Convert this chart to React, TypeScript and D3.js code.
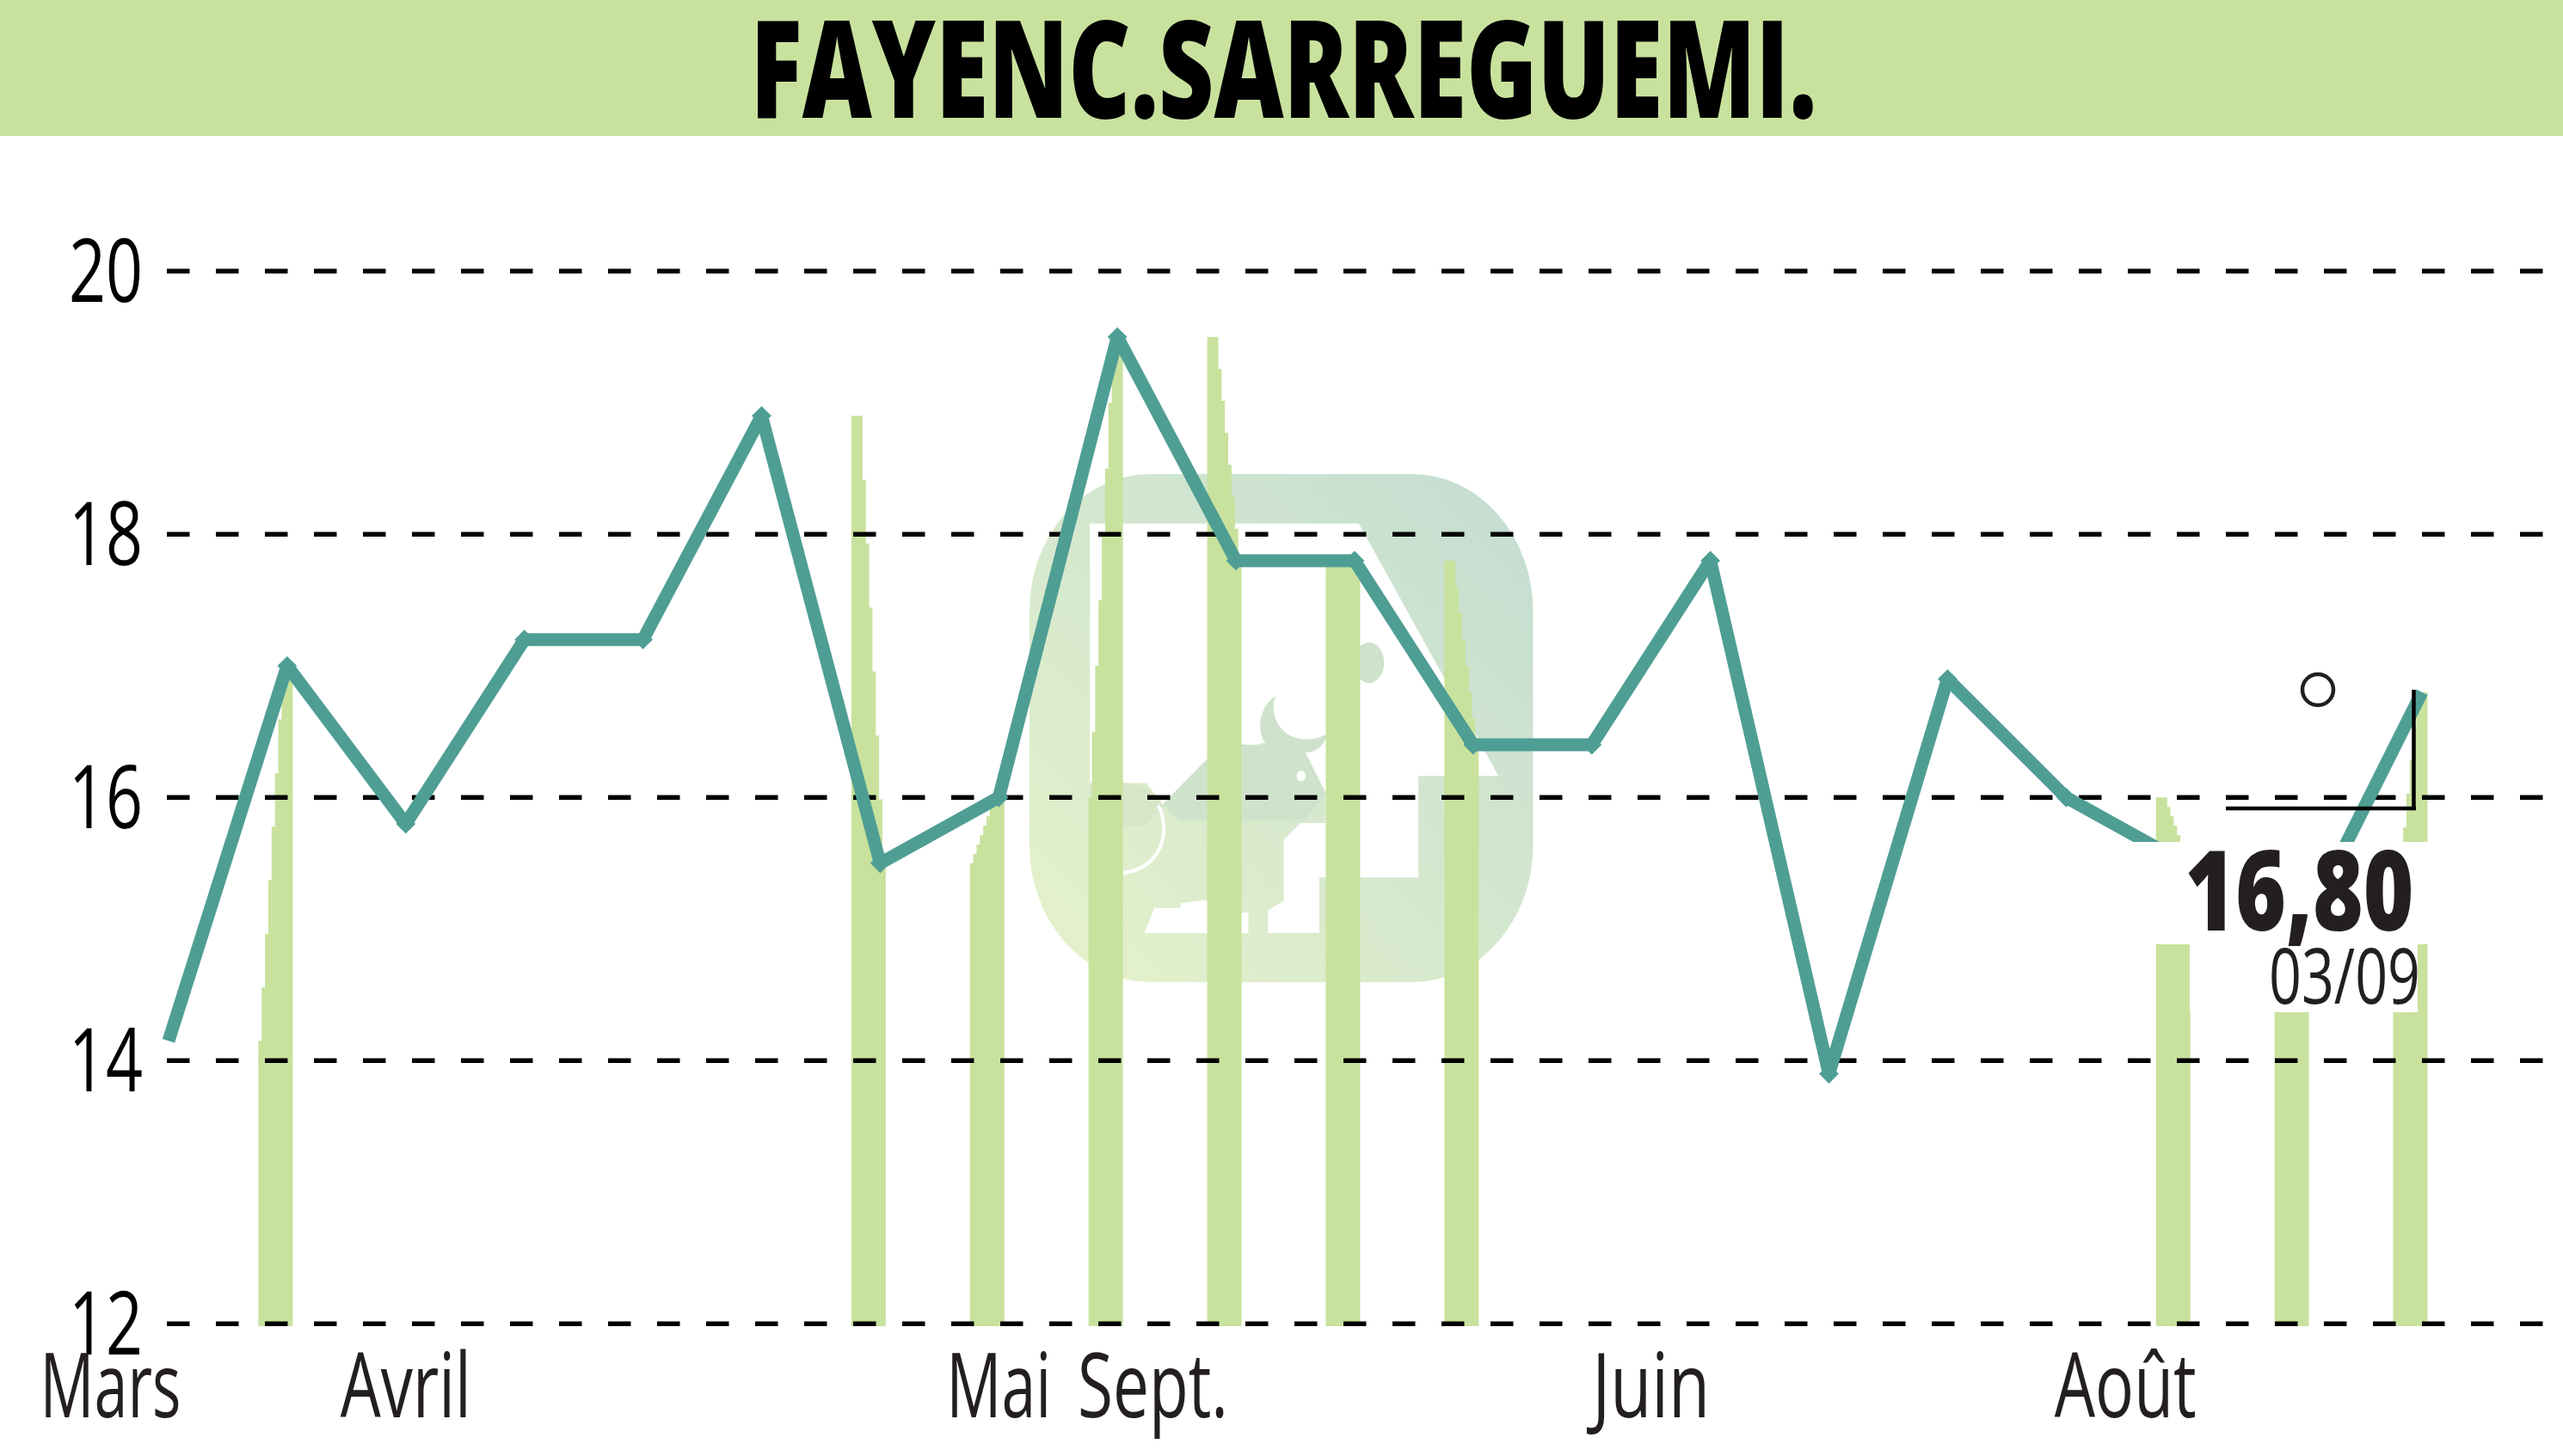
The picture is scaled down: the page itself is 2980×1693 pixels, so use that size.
import React from "react";
import * as d3 from "d3";

const title = "FAYENC.SARREGUEMI.";
const prices = [14.15, 17.0, 15.8, 17.2, 17.2, 18.9, 15.5, 16.0, 19.5, 17.8, 17.8, 16.4, 16.4, 17.8, 13.9, 16.9, 16.0, 15.5, 15.0, 16.8];
const barIndexes = [1, 6, 7, 8, 9, 10, 11, 17, 18, 19];
const yTicks = [12, 14, 16, 18, 20];
const xLabels = ["Mars", "Avril", "Mai", "Sept.", "Juin", "Août"];
const xLabelPositions = [-0.49, 2, 7, 8.3, 12.5, 16.5];
const xLabelWidths = [164, 152, 122, 175, 137, 165];
const lastValue = "16,80";
const lastDate = "03/09";

const W = 2980;
const H = 1693;
const FONT = "'Open Sans', sans-serif";
const INK = "#231f20";
const BAR = "#c8e29e";
const LINE = "#4f9e94";

const x = d3.scaleLinear().domain([0, 19]).range([196, 2816]);
const y = d3.scaleLinear().domain([12, 20]).range([1539.3, 315.3]);

const BAR_W = 40;
const BAR_PLATEAU = 13;
const BAR_LEVELS = 7;
const BAR_BASE = 1542;

type Step = { px: number; py: number };
function barSteps(i: number): Step[] {
  const x0 = x(i) - 33.5;
  const taper = BAR_W - BAR_PLATEAU;
  const rising = prices[i] >= prices[i - 1];
  const level = d3.scaleLinear().domain([0, BAR_LEVELS]).range([y(prices[i - 1]), y(prices[i])]);
  const edge = (k: number) =>
    rising ? x0 + (k * taper) / BAR_LEVELS : k === 0 ? x0 : x0 + BAR_PLATEAU + ((k - 1) * taper) / BAR_LEVELS;
  const pts = d3.range(BAR_LEVELS + 1).map((k) => ({ px: edge(k), py: level(k) }));
  pts.push({ px: x0 + BAR_W, py: level(BAR_LEVELS) });
  return pts;
}
const barArea = d3
  .area<Step>()
  .x((d) => d.px)
  .y0(BAR_BASE)
  .y1((d) => d.py)
  .curve(d3.curveStepAfter);

const priceLine = d3
  .line<number>()
  .x((_, i) => x(i))
  .y((d) => y(d));

const marker = d3.symbol().type(d3.symbolSquare).size(260)();

function Watermark() {
  return (
    <g transform={`translate(1100,340) scale(${1 / 2.063},${1 / 1.823})`}>
      <rect x={200} y={385} width={1208} height={1077} rx={290} ry={290} fill="url(#wm)" />
      <path
        fill="#fff"
        d="M345,490 L990,490 L1325,1025 L1133,1025 L1133,1240 L895,1240 L895,1358 L772,1358 L772,1310 L810,1290 L810,1160 L850,1125 L910,1125 L910,1060 L860,975 L760,955 L625,990 L520,1085 L480,1040 L345,1040 Z"
      />
      <path fill="#cfe3cc" d="M1015,742 a36,43 0 1,1 -1,0 Z" />
      <path
        fill="#cfe3cc"
        d="M792,855 C745,880 745,940 770,960 L700,958 L625,990 L520,1085 L560,1120 L860,1120 L910,1060 L862,975 C885,975 905,965 915,935 C880,955 830,950 805,925 C785,905 780,875 792,855 Z"
      />
      <circle cx={852} cy={1025} r={11} fill="#fff" />
      <path fill="#d6e7c8" d="M345,1040 L430,1040 C480,1045 505,1065 520,1090 L480,1130 L345,1130 Z" />
      <path fill="none" stroke="#fff" strokeWidth={8} d="M425,1230 C490,1225 525,1180 522,1130 C520,1110 515,1095 508,1088" />
      <path fill="#fff" d="M475,1358 L500,1305 L560,1305 L565,1295 L620,1288 L680,1315 L725,1315 L725,1358 Z" />
    </g>
  );
}

export default function App() {
  return (
    <svg
      width={W}
      height={H}
      viewBox={`0 0 ${W} ${H}`}
      style={{ position: "fixed", left: 0, top: 0, background: "#fff" }}
    >
      <defs>
        <linearGradient id="wm" x1="0" y1="1" x2="1" y2="0">
          <stop offset="0" stopColor="#e6f2ca" />
          <stop offset="1" stopColor="#c3ddd2" />
        </linearGradient>
      </defs>

      <rect x={0} y={0} width={W} height={158} fill={BAR} />
      <text
        x={1492.5}
        y={137}
        textAnchor="middle"
        fontFamily={FONT}
        fontWeight={800}
        fontSize={157}
        textLength={1240}
        lengthAdjust="spacingAndGlyphs"
        fill="#000"
      >
        {title}
      </text>

      <Watermark />

      {barIndexes.map((i) => (
        <path key={i} d={barArea(barSteps(i)) as string} fill={BAR} />
      ))}

      {yTicks.map((t) => (
        <g key={t}>
          <line x1={194} x2={W} y1={y(t)} y2={y(t)} stroke="#000" strokeWidth={5.5} strokeDasharray="26.5 30.5" />
          <text
            x={166}
            y={y(t) + 36}
            textAnchor="end"
            fontFamily={FONT}
            fontWeight={500}
            fontSize={102}
            textLength={86}
            lengthAdjust="spacingAndGlyphs"
            fill="#000"
          >
            {t}
          </text>
        </g>
      ))}

      <path d={priceLine(prices) as string} fill="none" stroke={LINE} strokeWidth={15} strokeLinejoin="bevel" />
      {prices.slice(1, -1).map((p, i) => (
        <path key={i} d={marker as string} transform={`translate(${x(i + 1)},${y(p)}) rotate(45)`} fill={LINE} />
      ))}

      <rect x={2460} y={979} width={370} height={119} fill="#fff" />
      <rect x={2546} y={1098} width={265} height={79} fill="#fff" />

      <line x1={2588} x2={2809} y1={940} y2={940} stroke="#000" strokeWidth={4.5} />
      <line x1={2806.5} x2={2806.5} y1={802} y2={942} stroke="#000" strokeWidth={4.5} />
      <circle cx={2695} cy={802} r={18} fill="none" stroke={INK} strokeWidth={4.5} />

      <text
        x={2673.5}
        y={1082}
        textAnchor="middle"
        fontFamily={FONT}
        fontWeight={800}
        fontSize={129}
        textLength={266}
        lengthAdjust="spacingAndGlyphs"
        fill={INK}
      >
        {lastValue}
      </text>
      <text
        x={2726}
        y={1167}
        textAnchor="middle"
        fontFamily={FONT}
        fontSize={90}
        textLength={176}
        lengthAdjust="spacingAndGlyphs"
        fill={INK}
      >
        {lastDate}
      </text>

      {xLabels.map((label, i) => (
        <text
          key={label}
          x={x(xLabelPositions[i])}
          y={1648}
          textAnchor="middle"
          fontFamily={FONT}
          fontSize={105}
          textLength={xLabelWidths[i]}
          lengthAdjust="spacingAndGlyphs"
          fill={INK}
        >
          {label}
        </text>
      ))}
    </svg>
  );
}
